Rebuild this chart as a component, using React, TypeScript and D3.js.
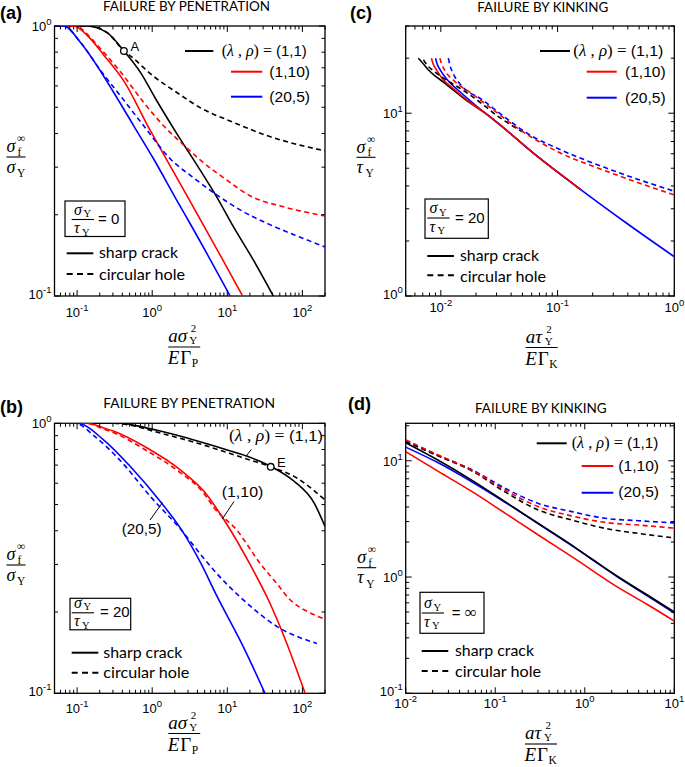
import React from "react";
import * as d3 from "d3";

type P = [number, number];

// ---------------- data ----------------
// (a) failure by penetration, sigmaY/tauY = 0
const aCrack11: P[] = [[0.05, 1], [0.136, 1], [0.251, 0.945], [0.42, 0.808], [0.7, 0.672], [1.1, 0.54], [1.95, 0.415], [4.89, 0.278], [7.22, 0.233], [12, 0.181], [22.2, 0.136], [41, 0.1]];
const aHole11: P[] = [[0.05, 1], [0.136, 1], [0.251, 0.945], [0.42, 0.808], [0.515, 0.774], [1.05, 0.65], [2.15, 0.566], [4.42, 0.497], [12, 0.44], [33.5, 0.393], [93, 0.362], [200, 0.345]];
const aCrack110: P[] = [[0.05, 1], [0.09, 1], [0.14, 0.915], [0.227, 0.78], [0.42, 0.625], [0.93, 0.413], [1.9, 0.29], [3.9, 0.203], [8, 0.142], [16, 0.1]];
const aHole110: P[] = [[0.05, 1], [0.095, 1], [0.14, 0.925], [0.185, 0.85], [0.38, 0.675], [0.775, 0.52], [1.43, 0.426], [2.75, 0.358], [4.6, 0.315], [10, 0.268], [20.1, 0.235], [55.8, 0.214], [200, 0.198]];
const aCrack205: P[] = [[0.05, 1], [0.0665, 1], [0.111, 0.868], [0.185, 0.711], [0.309, 0.566], [0.57, 0.426], [1.05, 0.321], [2.27, 0.219], [3.18, 0.186], [10.9, 0.1]];
const aHole205: P[] = [[0.05, 1], [0.0665, 1], [0.111, 0.87], [0.205, 0.685], [0.38, 0.55], [0.775, 0.426], [1.76, 0.321], [3.5, 0.275], [7.22, 0.237], [15, 0.208], [33.5, 0.186], [80, 0.168], [200, 0.152]];
const pointA: P = [0.42, 0.808];

// (b) failure by penetration, sigmaY/tauY = 20
const bCrack11: P[] = [[0.05, 1], [0.4, 1], [0.63, 0.978], [1.2, 0.94], [2.93, 0.882], [8.17, 0.81], [18.5, 0.755], [37.9, 0.693], [77.5, 0.61], [143, 0.507], [200, 0.415]];
const bHole11: P[] = [[0.05, 1], [0.3, 1], [0.5, 0.985], [1.05, 0.934], [4.89, 0.83], [15.1, 0.75], [37.9, 0.69], [77.5, 0.636], [200, 0.52]];
const bCrack110: P[] = [[0.05, 1], [0.136, 1], [0.227, 0.961], [0.309, 0.934], [0.857, 0.81], [2.39, 0.671], [4.89, 0.56], [10, 0.42], [20.1, 0.3], [37.1, 0.215], [62, 0.153], [108.7, 0.1]];
const bHole110: P[] = [[0.05, 1], [0.13, 1], [0.227, 0.952], [0.309, 0.922], [0.857, 0.79], [2.39, 0.655], [4.89, 0.55], [6.65, 0.487], [13.3, 0.403], [27.3, 0.303], [45.6, 0.255], [68.5, 0.222], [84, 0.212], [120, 0.2], [200, 0.188]];
const bCrack205: P[] = [[0.05, 1], [0.1, 1], [0.227, 0.867], [0.515, 0.69], [1.29, 0.512], [2.46, 0.403], [4.42, 0.304], [7.22, 0.23], [16.3, 0.149], [31.8, 0.1]];
const bHole205: P[] = [[0.05, 1], [0.095, 1], [0.167, 0.9], [0.38, 0.725], [0.95, 0.535], [2.39, 0.405], [5.15, 0.31], [7.22, 0.278], [16.3, 0.222], [45.6, 0.177], [156, 0.153]];
const pointE: P = [37.9, 0.69];

// (c) failure by kinking, sigmaY/tauY = 20
const cCrack11: P[] = [[0.0064, 20], [0.0068, 19.2], [0.0078, 17.3], [0.0108, 14.6], [0.0184, 11.2], [0.024, 10], [0.031, 8.8], [0.064, 5.95], [0.158, 3.82]];
const cCrack110: P[] = [[0.0083, 20], [0.0086, 18.6], [0.0092, 17.2], [0.0102, 15.6], [0.0132, 13.4], [0.0184, 11.3], [0.024, 10], [0.031, 8.8], [0.064, 5.95], [0.158, 3.82]];
const cCrack205: P[] = [[0.009, 20], [0.0093, 18.6], [0.0099, 17.2], [0.0116, 15], [0.015, 12.9], [0.0184, 11.5], [0.024, 10], [0.031, 8.8], [0.064, 5.95], [0.158, 3.82], [0.391, 2.5], [1, 1.64]];
const cHole11: P[] = [[0.0071, 19.6], [0.0077, 18.2], [0.0085, 17.2], [0.0108, 15.4], [0.0151, 13.5], [0.0184, 12.4], [0.0332, 9.3], [0.05, 7.9]];
const cHole110: P[] = [[0.0098, 20], [0.0101, 18.8], [0.0108, 17.2], [0.0132, 14.9], [0.0184, 12.8], [0.0272, 10.6], [0.046, 8.24], [0.098, 6.2], [0.264, 4.81], [1, 3.57]];
const cHole205: P[] = [[0.0116, 20], [0.012, 18.2], [0.0128, 16.4], [0.0151, 14.1], [0.0224, 11.9], [0.0354, 9.5], [0.056, 7.7], [0.098, 6.45], [0.264, 5.0], [1, 3.74]];

// (d) failure by kinking, sigmaY/tauY = infinity
const dCrack11: P[] = [[0.01, 14.3], [0.0231, 10.1], [0.0546, 6.82], [0.1285, 4.45], [0.303, 2.89], [0.716, 1.88], [1.2, 1.43], [2.38, 1.0], [5, 0.7], [10, 0.5]];
const dCrack110: P[] = [[0.01, 11.97], [0.0231, 8.1], [0.0546, 5.45], [0.1285, 3.55], [0.303, 2.3], [0.716, 1.5], [2.38, 0.81], [5, 0.58], [10, 0.418]];
const dCrack205: P[] = [[0.01, 13.1], [0.0231, 9.6], [0.0546, 6.6], [0.1285, 4.4], [0.303, 2.87], [0.716, 1.86], [2.38, 0.99], [5, 0.69], [10, 0.49]];
const dHole11: P[] = [[0.01, 14.6], [0.0231, 11.0], [0.0546, 8.2], [0.1285, 5.4], [0.303, 3.77], [0.716, 3.09], [1.69, 2.62], [3.97, 2.37], [10, 2.17]];
const dHole110: P[] = [[0.01, 15.1], [0.0231, 11.2], [0.0546, 8.32], [0.1285, 5.6], [0.303, 4.03], [0.716, 3.35], [1.69, 2.95], [3.97, 2.8], [10, 2.63]];
const dHole205: P[] = [[0.01, 15.0], [0.0231, 11.1], [0.0546, 8.4], [0.1285, 5.8], [0.303, 4.3], [0.716, 3.65], [1.69, 3.2], [3.97, 3.05], [10, 2.92]];

const seriesNames = ["(1,1)", "(1,10)", "(20,5)"];
const titles = ["FAILURE BY PENETRATION", "FAILURE BY KINKING"];
const panelTags = ["(a)", "(b)", "(c)", "(d)"];
const ratioValues = ["0", "20", "20", "\u221E"];
const styleNames = ["sharp crack", "circular hole"];

// ---------------- styling ----------------
const SANS = "'Liberation Sans', Arial, Helvetica, sans-serif";
const CAL = "Lato, 'Open Sans', sans-serif";
const SERIF = "'Liberation Serif', 'Times New Roman', serif";
const BLACK = "#000000";
const RED = "#ff0000";
const BLUE = "#0000ff";
const DASH = "5,3.5";

type Cfg = { id: string; x0: number; x1: number; y0: number; y1: number; xDom: [number, number]; yDom: [number, number]; xLabDy: number };
type Series = { data: P[]; color: string; dash?: boolean };

const cfgA: Cfg = { id: "a", x0: 54.5, x1: 325, y0: 26, y1: 296, xDom: [0.05, 200], yDom: [0.1, 1], xLabDy: 20.5 };
const cfgB: Cfg = { id: "b", x0: 54.5, x1: 325, y0: 423.3, y1: 693.3, xDom: [0.05, 200], yDom: [0.1, 1], xLabDy: 20 };
const cfgC: Cfg = { id: "c", x0: 405.7, x1: 674.3, y0: 26, y1: 296, xDom: [0.005, 1], yDom: [1, 30], xLabDy: 16 };
const cfgD: Cfg = { id: "d", x0: 405.7, x1: 674.3, y0: 423.3, y1: 693.3, xDom: [0.01, 10], yDom: [0.1, 21], xLabDy: 15 };

function scales(c: Cfg) {
  const xs = d3.scaleLog().domain(c.xDom).range([c.x0, c.x1]);
  const ys = d3.scaleLog().domain(c.yDom).range([c.y1, c.y0]);
  return { xs, ys };
}

function logTicks([lo, hi]: [number, number]) {
  const out: { v: number; major: boolean; e: number }[] = [];
  for (let e = Math.floor(Math.log10(lo)); e <= Math.ceil(Math.log10(hi)); e++) {
    for (let k = 1; k <= 9; k++) {
      const v = k * Math.pow(10, e);
      if (v >= lo * 0.9999 && v <= hi * 1.0001) out.push({ v, major: k === 1, e });
    }
  }
  return out;
}

function Pow({ x, y, e, anchor }: { x: number; y: number; e: number; anchor: "middle" | "end" }) {
  return (
    <text x={x} y={y} fontFamily={SANS} fontSize={13} textAnchor={anchor} fill="#000">
      10
      <tspan dy={-6} fontSize={9.5}>{e < 0 ? "-" + -e : String(e)}</tspan>
    </text>
  );
}

function Panel({ cfg, series }: { cfg: Cfg; series: Series[] }) {
  const { x0, x1, y0, y1 } = cfg;
  const { xs, ys } = scales(cfg);
  const line = d3.line<P>().x((d) => xs(d[0])).y((d) => ys(d[1])).curve(d3.curveMonotoneX);
  const xt = logTicks(cfg.xDom);
  const yt = logTicks(cfg.yDom);
  const MAJ = 6;
  const MIN = 3.5;
  return (
    <g>
      <defs>
        <clipPath id={`clip-${cfg.id}`}>
          <rect x={x0} y={y0} width={x1 - x0} height={y1 - y0} />
        </clipPath>
      </defs>
      <rect x={x0} y={y0} width={x1 - x0} height={y1 - y0} fill="none" stroke="#000" strokeWidth={1.3} />
      <g clipPath={`url(#clip-${cfg.id})`}>
        {series.map((s, i) => (
          <path key={i} d={line(s.data) || ""} fill="none" stroke={s.color} strokeWidth={1.6} strokeDasharray={s.dash ? DASH : undefined} />
        ))}
      </g>
      <g stroke="#000" strokeWidth={1}>
        {xt.map((t, i) => {
          const x = xs(t.v);
          const L = t.major ? MAJ : MIN;
          return (
            <g key={"x" + i}>
              <line x1={x} x2={x} y1={y1} y2={y1 - L} />
              <line x1={x} x2={x} y1={y0} y2={y0 + L} />
            </g>
          );
        })}
        {yt.map((t, i) => {
          const y = ys(t.v);
          const L = t.major ? MAJ : MIN;
          return (
            <g key={"y" + i}>
              <line x1={x0} x2={x0 + L} y1={y} y2={y} />
              <line x1={x1} x2={x1 - L} y1={y} y2={y} />
            </g>
          );
        })}
      </g>
      {xt.filter((t) => t.major).map((t, i) => (
        <Pow key={"xl" + i} x={xs(t.v)} y={y1 + cfg.xLabDy} e={t.e} anchor="middle" />
      ))}
      {yt.filter((t) => t.major).map((t, i) => (
        <Pow key={"yl" + i} x={x0 - 3} y={ys(t.v) + (Math.abs(t.v - cfg.yDom[0]) < 1e-9 ? 3 : 5)} e={t.e} anchor="end" />
      ))}
    </g>
  );
}

// sigma_f^inf over sigma_Y / tau_Y
function YFrac({ cx, by, den }: { cx: number; by: number; den: string }) {
  const subX = den === "\u03C4" ? -0.5 : 1;
  return (
    <g fill="#000">
      <text fontFamily={SERIF}>
        <tspan x={cx - 9.5} y={by - 4.6} fontSize={18} fontStyle="italic">{"\u03C3"}</tspan>
        <tspan x={cx + 1.5} y={by - 1} fontSize={11.5}>f</tspan>
        <tspan x={cx + 1} y={by - 14.8} fontSize={11.5}>{"\u221E"}</tspan>
        <tspan x={cx - 9.5} y={by + 15.6} fontSize={18} fontStyle="italic">{den}</tspan>
        <tspan x={cx + subX} y={by + 20} fontSize={11.5}>Y</tspan>
      </text>
      <line x1={cx - 9.5} x2={cx + 9.5} y1={by} y2={by} stroke="#000" strokeWidth={1.1} />
    </g>
  );
}

function XFrac({ cx, by, sym, sub }: { cx: number; by: number; sym: string; sub: string }) {
  const yx = sym === "\u03C4" ? 3 : 5;
  return (
    <g fill="#000">
      <text fontFamily={SERIF}>
        <tspan x={cx - 16} y={by - 4.6} fontSize={19} fontStyle="italic">a</tspan>
        <tspan x={cx - 6.5} y={by - 4.6} fontSize={19} fontStyle="italic">{sym}</tspan>
        <tspan x={cx + yx} y={by - 2.6} fontSize={11}>Y</tspan>
        <tspan x={cx + yx + 1.5} y={by - 14.8} fontSize={11}>2</tspan>
        <tspan x={cx - 16.5} y={by + 17.2} fontSize={19} fontStyle="italic">E</tspan>
        <tspan x={cx - 4} y={by + 17.2} fontSize={19}>{"\u0393"}</tspan>
        <tspan x={cx + 7.5} y={by + 20} fontSize={11.5}>{sub}</tspan>
      </text>
      <line x1={cx - 16} x2={cx + 16} y1={by} y2={by} stroke="#000" strokeWidth={1.1} />
    </g>
  );
}

function RatioBox({ bx, by, bw, bh, fx, fy, rx, value }: { bx: number; by: number; bw: number; bh: number; fx: number; fy: number; rx: number; value: string }) {
  const inf = value === "\u221E";
  return (
    <g fill="#000">
      <rect x={bx} y={by} width={bw} height={bh} fill="#fff" stroke="#000" strokeWidth={1.2} />
      <text fontFamily={SERIF}>
        <tspan x={fx} y={fy - 5} fontSize={16} fontStyle="italic">{"\u03C3"}</tspan>
        <tspan x={fx + 9.5} y={fy - 2.5} fontSize={10.5}>Y</tspan>
        <tspan x={fx} y={fy + 13.5} fontSize={16} fontStyle="italic">{"\u03C4"}</tspan>
        <tspan x={fx + 8} y={fy + 16.2} fontSize={10.5}>Y</tspan>
      </text>
      <line x1={fx - 2.3} x2={fx + 20} y1={fy} y2={fy} stroke="#000" strokeWidth={1.1} />
      <text x={rx} y={fy + 4.5} fontFamily={SANS} fontSize={15}>
        ={" "}
        {inf ? <tspan fontFamily={SERIF} fontSize={17}>{value}</tspan> : value}
      </text>
    </g>
  );
}

function StyleLegend({ x, y1, y2, tx, t1, t2 }: { x: number; y1: number; y2: number; tx: number; t1: number; t2: number }) {
  return (
    <g>
      <line x1={x} x2={x + 26.6} y1={y1} y2={y1} stroke="#000" strokeWidth={2} />
      <line x1={x} x2={x + 26.6} y1={y2} y2={y2} stroke="#000" strokeWidth={2} strokeDasharray="6,4.3" />
      <text x={tx} y={t1} fontFamily={CAL} fontSize={15} textLength={79} lengthAdjust="spacingAndGlyphs">{styleNames[0]}</text>
      <text x={tx} y={t2} fontFamily={CAL} fontSize={15} textLength={86} lengthAdjust="spacingAndGlyphs">{styleNames[1]}</text>
    </g>
  );
}

function LambdaRho({ x, y, len }: { x: number; y: number; len: number }) {
  return (
    <text x={x} y={y} fontSize={15} textLength={len} lengthAdjust="spacingAndGlyphs" fill="#000">
      <tspan fontFamily={SERIF} fontSize={16}>(</tspan>
      <tspan fontFamily={SERIF} fontSize={16} fontStyle="italic">{"\u03BB"}</tspan>
      <tspan fontFamily={SERIF} fontSize={16}>{" , "}</tspan>
      <tspan fontFamily={SERIF} fontSize={16} fontStyle="italic">{"\u03C1"}</tspan>
      <tspan fontFamily={SERIF} fontSize={16}>{") = "}</tspan>
      <tspan fontFamily={SANS}>{seriesNames[0]}</tspan>
    </text>
  );
}

function SeriesLegend({ x1, x2, xr1, xr2, ys, ty, tx1, tx2, len }: { x1: number; x2: number; xr1: number; xr2: number; ys: number[]; ty: number[]; tx1: number; tx2: number; len: number }) {
  return (
    <g>
      <line x1={x1} x2={x2} y1={ys[0]} y2={ys[0]} stroke={BLACK} strokeWidth={2} />
      <LambdaRho x={tx1} y={ty[0]} len={len} />
      <line x1={xr1} x2={xr2} y1={ys[1]} y2={ys[1]} stroke={RED} strokeWidth={2} />
      <text x={tx2} y={ty[1]} fontFamily={SANS} fontSize={15} textLength={40.7} lengthAdjust="spacingAndGlyphs">{seriesNames[1]}</text>
      <line x1={xr1} x2={xr2} y1={ys[2]} y2={ys[2]} stroke={BLUE} strokeWidth={2} />
      <text x={tx2} y={ty[2]} fontFamily={SANS} fontSize={15} textLength={40.7} lengthAdjust="spacingAndGlyphs">{seriesNames[2]}</text>
    </g>
  );
}

export default function App() {
  const A = scales(cfgA);
  const B = scales(cfgB);

  const seriesA: Series[] = [
    { data: aHole11, color: BLACK, dash: true },
    { data: aCrack11, color: BLACK },
    { data: aHole110, color: RED, dash: true },
    { data: aCrack110, color: RED },
    { data: aHole205, color: BLUE, dash: true },
    { data: aCrack205, color: BLUE },
  ];
  const seriesB: Series[] = [
    { data: bHole11, color: BLACK, dash: true },
    { data: bCrack11, color: BLACK },
    { data: bHole110, color: RED, dash: true },
    { data: bCrack110, color: RED },
    { data: bHole205, color: BLUE, dash: true },
    { data: bCrack205, color: BLUE },
  ];
  const seriesC: Series[] = [
    { data: cCrack11, color: BLACK },
    { data: cCrack205, color: BLUE },
    { data: cCrack110, color: RED },
    { data: cHole11, color: BLACK, dash: true },
    { data: cHole205, color: BLUE, dash: true },
    { data: cHole110, color: RED, dash: true },
  ];
  const seriesD: Series[] = [
    { data: dHole205, color: BLUE, dash: true },
    { data: dHole11, color: BLACK, dash: true },
    { data: dHole110, color: RED, dash: true },
    { data: dCrack205, color: BLUE },
    { data: dCrack110, color: RED },
    { data: dCrack11, color: BLACK },
  ];

  return (
    <svg
      xmlns="http://www.w3.org/2000/svg"
      width={685}
      height={767}
      viewBox="0 0 685 767"
      style={{ position: "absolute", left: 0, top: 0, display: "block", background: "#fff" }}
    >
      <rect x={0} y={0} width={685} height={767} fill="#fff" />

      {/* panel tags and titles */}
      <g fontFamily={SANS} fontWeight="bold" fontSize={18} fill="#000">
        <text x={0} y={18.5}>{panelTags[0]}</text>
        <text x={0} y={413}>{panelTags[1]}</text>
        <text x={350} y={18.5}>{panelTags[2]}</text>
        <text x={348} y={410}>{panelTags[3]}</text>
      </g>
      <g fontFamily={CAL} fontSize={12.5} fill="#000">
        <text x={103} y={10.7} textLength={167} lengthAdjust="spacingAndGlyphs">{titles[0]}</text>
        <text x={103.3} y={408} textLength={171.7} lengthAdjust="spacingAndGlyphs">{titles[0]}</text>
        <text x={477.3} y={11.5} textLength={131} lengthAdjust="spacingAndGlyphs">{titles[1]}</text>
        <text x={475} y={412.5} textLength={131.7} lengthAdjust="spacingAndGlyphs">{titles[1]}</text>
      </g>

      <Panel cfg={cfgA} series={seriesA} />
      <Panel cfg={cfgB} series={seriesB} />
      <Panel cfg={cfgC} series={seriesC} />
      <Panel cfg={cfgD} series={seriesD} />

      {/* axis labels */}
      <YFrac cx={16} by={157} den={"\u03C3"} />
      <YFrac cx={16} by={565} den={"\u03C3"} />
      <YFrac cx={366} by={157.3} den={"\u03C4"} />
      <YFrac cx={366.7} by={567.7} den={"\u03C4"} />
      <XFrac cx={184.2} by={347} sym={"\u03C3"} sub="P" />
      <XFrac cx={184.2} by={733.5} sym={"\u03C3"} sub="P" />
      <XFrac cx={541.7} by={347.5} sym={"\u03C4"} sub="K" />
      <XFrac cx={541} by={744} sym={"\u03C4"} sub="K" />

      {/* ratio boxes */}
      <RatioBox bx={65} by={201} bw={60} bh={35.5} fx={74} fy={219.5} rx={98} value={ratioValues[0]} />
      <RatioBox bx={70} by={598.3} bw={60.7} bh={31.5} fx={74} fy={612.8} rx={100} value={ratioValues[1]} />
      <RatioBox bx={425} by={199} bw={63.3} bh={39.3} fx={429.5} fy={218} rx={455} value={ratioValues[2]} />
      <RatioBox bx={420} by={592.3} bw={64} bh={41} fx={424} fy={613} rx={451.7} value={ratioValues[3]} />

      {/* line style legends */}
      <StyleLegend x={66.7} y1={253.3} y2={274} tx={99} t1={258} t2={279.5} />
      <StyleLegend x={71.7} y1={652.7} y2={672.7} tx={103.3} t1={657.7} t2={678.3} />
      <StyleLegend x={427.3} y1={256} y2={275.3} tx={460} t1={261} t2={281.7} />
      <StyleLegend x={421.7} y1={651} y2={671} tx={455} t1={656} t2={676.7} />

      {/* series legends */}
      <SeriesLegend x1={185} x2={213.3} xr1={231} xr2={262.3} ys={[51, 71.7, 96.7]} ty={[55.5, 76.5, 101.5]} tx1={221.7} tx2={269.3} len={85} />
      <SeriesLegend x1={540} x2={570} xr1={586.7} xr2={616.7} ys={[51, 71.7, 97.7]} ty={[55.5, 76.5, 102.5]} tx1={573.3} tx2={625} len={90} />
      <SeriesLegend x1={536.7} x2={566.7} xr1={581.7} xr2={613.3} ys={[443.3, 466, 492.7]} ty={[448, 470.5, 497]} tx1={571.7} tx2={618.3} len={86.6} />

      {/* (a) point A */}
      <circle cx={A.xs(pointA[0])} cy={A.ys(pointA[1])} r={3.3} fill="#fff" stroke="#000" strokeWidth={1.3} />
      <text x={130.5} y={50.5} fontFamily={SANS} fontSize={13}>A</text>

      {/* (b) annotations */}
      <circle cx={B.xs(pointE[0])} cy={B.ys(pointE[1])} r={3.3} fill="#fff" stroke="#000" strokeWidth={1.3} />
      <text x={277} y={466.5} fontFamily={SANS} fontSize={13}>E</text>
      <LambdaRho x={229} y={441} len={94} />
      <line x1={246} y1={456.3} x2={251.3} y2={449.5} stroke="#000" strokeWidth={1} />
      <text x={221.7} y={497} fontFamily={SANS} fontSize={15} textLength={41.6} lengthAdjust="spacingAndGlyphs">{seriesNames[1]}</text>
      <line x1={222.3} y1={519} x2={234} y2={501.5} stroke="#000" strokeWidth={1} />
      <text x={121.7} y={533.5} fontFamily={SANS} fontSize={15} textLength={40} lengthAdjust="spacingAndGlyphs">{seriesNames[2]}</text>
      <line x1={150} y1={520} x2={162.5} y2={502.5} stroke="#000" strokeWidth={1} />
    </svg>
  );
}
